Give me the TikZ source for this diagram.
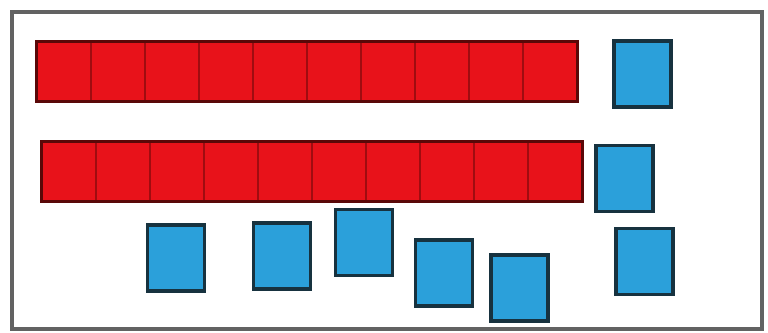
\documentclass[tikz,border=0pt]{standalone}
\usepackage{xcolor}
\definecolor{cRed}{HTML}{E8121A}
\definecolor{cRedLine}{HTML}{A00C10}
\definecolor{cRedDark}{HTML}{5A0808}
\definecolor{cBlue}{HTML}{2BA0DA}
\definecolor{cBlueLine}{HTML}{17323F}
\definecolor{cFrame}{HTML}{626262}
\usetikzlibrary{fit}
\tikzset{
  rod-cell/.style={draw=cRedLine,line width=0.8pt,fill=cRed,
    minimum width=1.08cm,minimum height=1.18cm,inner sep=0pt},
  rod-outline/.style={draw=cRedDark,line width=1.6pt,inner sep=0pt},
  unit-box/.style={draw=cBlueLine,line width=1.8pt,fill=cBlue,
    minimum width=1.14cm,minimum height=1.32cm,inner sep=0pt},
  frame-box/.style={draw=cFrame,line width=1.8pt},
}

\begin{document}
\begin{tikzpicture}[x=0.02cm,y=-0.02cm]
  \useasboundingbox (0,0) rectangle (768,332);
  \draw[frame-box] (12,12) rectangle (762,329);
  % first rod
  \foreach \i in {0,...,9}
    \node[rod-cell] (ten-a-\i) at (64+54*\i,71.5) {};
  \node[rod-outline,fit=(ten-a-0)(ten-a-9)] (rod-a) {};
  % second rod
  \foreach \i in {0,...,9}
    \node[rod-cell] (ten-b-\i) at (69+54*\i,171.5) {};
  \node[rod-outline,fit=(ten-b-0)(ten-b-9)] (rod-b) {};
  % loose units
  \node[unit-box] (one-a) at (642.5,74) {};
  \node[unit-box] (one-b) at (624.5,178.5) {};
  \node[unit-box] (one-c) at (176,258) {};
  \node[unit-box] (one-d) at (282,256) {};
  \node[unit-box] (one-e) at (364,242.5) {};
  \node[unit-box] (one-f) at (444,273) {};
  \node[unit-box] (one-g) at (519.5,288) {};
  \node[unit-box] (one-h) at (644.5,261.5) {};
\end{tikzpicture}
\end{document}
